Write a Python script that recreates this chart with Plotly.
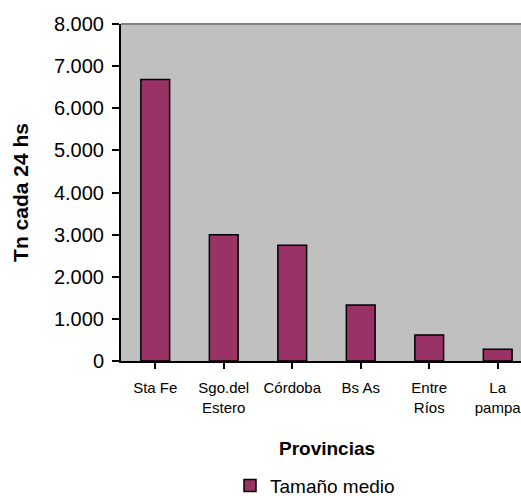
import plotly.graph_objects as go

# Processing capacity by province
provincias = ["Sta Fe", "Sgo.del<br>Estero", "Córdoba", "Bs As", "Entre<br>Ríos", "La<br>pampa"]
tamano_medio = [6680, 3000, 2750, 1330, 620, 280]
y_ticks = [0, 1000, 2000, 3000, 4000, 5000, 6000, 7000, 8000]

FONT = "Liberation Sans, Arial, sans-serif"
BAR = "#993366"

fig = go.Figure()
fig.add_trace(go.Bar(
    x=list(range(len(provincias))),
    y=tamano_medio,
    name="Tamaño medio",
    width=0.42,
    marker=dict(color=BAR, line=dict(color="black", width=1.5)),
))

fig.update_layout(
    width=521, height=496,
    margin=dict(l=121, r=0, t=24, b=135, autoexpand=False),
    paper_bgcolor="white",
    plot_bgcolor="#C0C0C0",
    separators=",.",
    font=dict(family=FONT, color="black"),
    showlegend=True,
    legend=dict(
        orientation="h",
        x=0.485, xanchor="center",
        y=-0.37, yanchor="middle",
        font=dict(size=19, family=FONT),
        itemwidth=30,
        tracegroupgap=0,
    ),
    xaxis=dict(
        tickmode="array",
        tickvals=list(range(len(provincias))),
        ticktext=provincias,
        range=[-0.5, 5.34],
        automargin=False,
        showgrid=False, zeroline=False,
        showline=True, linecolor="black", linewidth=2,
        ticks="outside", ticklen=6, tickwidth=1.5, tickcolor="black",
        tickfont=dict(size=15, family=FONT),
        ticklabelstandoff=6,
        ticklabeloverflow="allow",
    ),
    yaxis=dict(
        range=[0, 8000],
        tickmode="array",
        tickvals=y_ticks,
        tickformat=",",
        automargin=False,
        showgrid=False, zeroline=False,
        showline=True, linecolor="black", linewidth=2,
        ticks="outside", ticklen=7, tickwidth=1.5, tickcolor="black",
        tickfont=dict(size=20, family=FONT),
        ticklabelstandoff=4,
        title=dict(text="<b>Tn cada 24 hs</b>", font=dict(size=21, family=FONT), standoff=20),
    ),
    annotations=[
        dict(
            text="<b>Provincias</b>", xref="paper", yref="paper",
            x=0.514, y=-0.26, xanchor="center", yanchor="middle",
            showarrow=False, font=dict(size=19, family=FONT),
        )
    ],
    shapes=[
        dict(type="line", xref="paper", yref="paper", x0=0, x1=1, y0=1, y1=1,
             line=dict(color="#808080", width=2)),
    ],
)

fig.write_html("out.html")
